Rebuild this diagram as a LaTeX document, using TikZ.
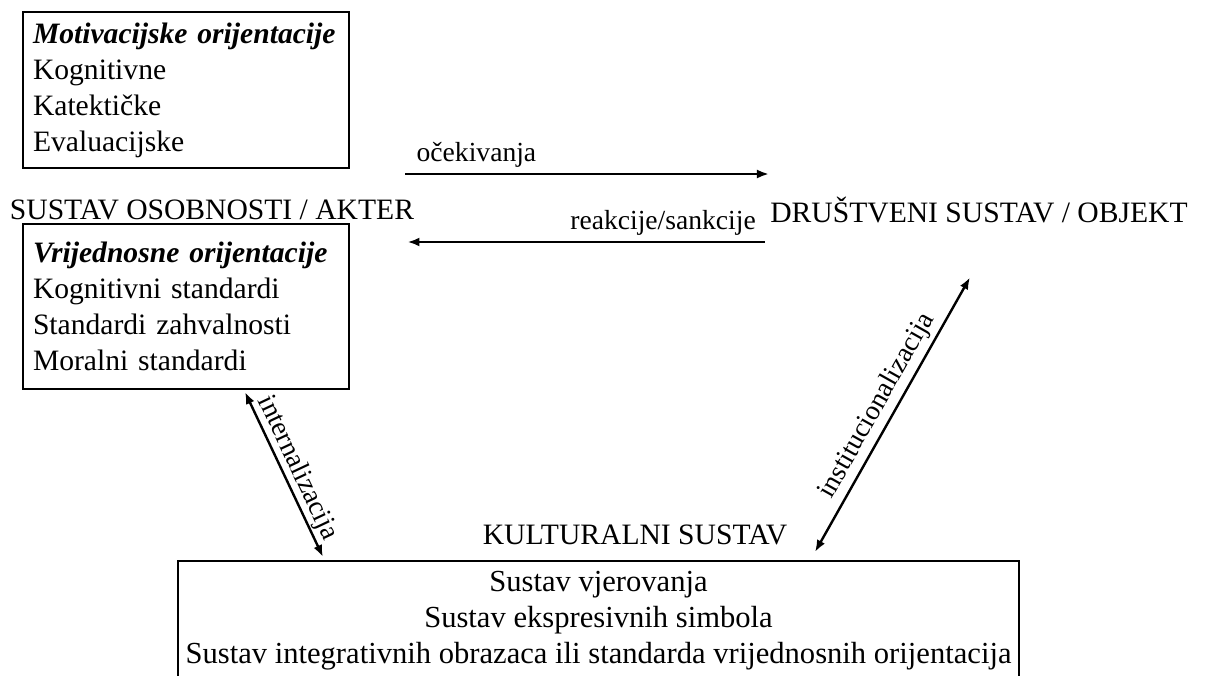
\documentclass[tikz,border=0pt]{standalone}
\usepackage{fontspec}
\setmainfont{Liberation Serif}
\usetikzlibrary{arrows.meta}

\begin{document}
\begin{tikzpicture}[x=.5pt,y=-.5pt,>={Latex[length=6pt,width=4.5pt]},
    okvir/.style={draw,line width=1pt,inner xsep=5pt,font=\fontsize{14.8}{18}\selectfont},
    naslov/.style={font=\fontsize{14.8}{18}\selectfont,inner sep=0pt},
    veza/.style={line width=1.2pt},
    opis/.style={font=\fontsize{13.8}{16}\selectfont,inner sep=.5pt}]
  \clip (0,0) rectangle (1205,675);
  \node[okvir,anchor=north west,text width=153pt,minimum height=78pt,align=left] (motiv) at (22,11)
    {\textbf{\textit{Motivacijske orijentacije}}\\Kognitivne\\Katektičke\\Evaluacijske};
  \node[naslov] (akter) at (212,210) {SUSTAV OSOBNOSTI / AKTER};
  \node[okvir,anchor=north west,text width=153pt,minimum height=82.5pt,align=left] (vrij) at (22,223)
    {\textbf{\textit{Vrijednosne orijentacije}}\\Kognitivni standardi\\Standardi zahvalnosti\\Moralni standardi};
  \node[naslov] (drustvo) at (979,210) {DRUŠTVENI SUSTAV / OBJEKT};
  \node[naslov] (kultura) at (635,535) {KULTURALNI SUSTAV};
  \node[okvir,anchor=north,minimum width=420.5pt,minimum height=60pt,align=center,inner xsep=2pt,
    font=\fontsize{15.3}{18}\selectfont] (sustavi) at (598.5,560)
    {Sustav vjerovanja\\Sustav ekspresivnih simbola\\Sustav integrativnih obrazaca ili standarda vrijednosnih orijentacija};
  \draw[veza,->] ([shift={(-9,-36)}]akter.east) -- ([shift={(-1,-36)}]drustvo.west)
    node[opis,pos=0,anchor=south west,xshift=4.5pt,yshift=2pt] {očekivanja};
  \draw[veza,->] ([shift={(-5,32)}]drustvo.west) -- ([shift={(-7,32)}]akter.east)
    node[opis,pos=0,anchor=south east,xshift=-3.5pt,yshift=2pt] {reakcije/sankcije};
  \draw[veza,<->] ([shift={(223,2)}]vrij.south west) -- node[opis,sloped,above] {internalizacija}
    ([shift={(-275.5,-3)}]sustavi.north);
  \draw[veza,<->] ([shift={(216.5,-8)}]sustavi.north) -- node[opis,sloped,above=1.5pt] {institucionalizacija}
    ([shift={(-9,54)}]drustvo.south);
\end{tikzpicture}
\end{document}
